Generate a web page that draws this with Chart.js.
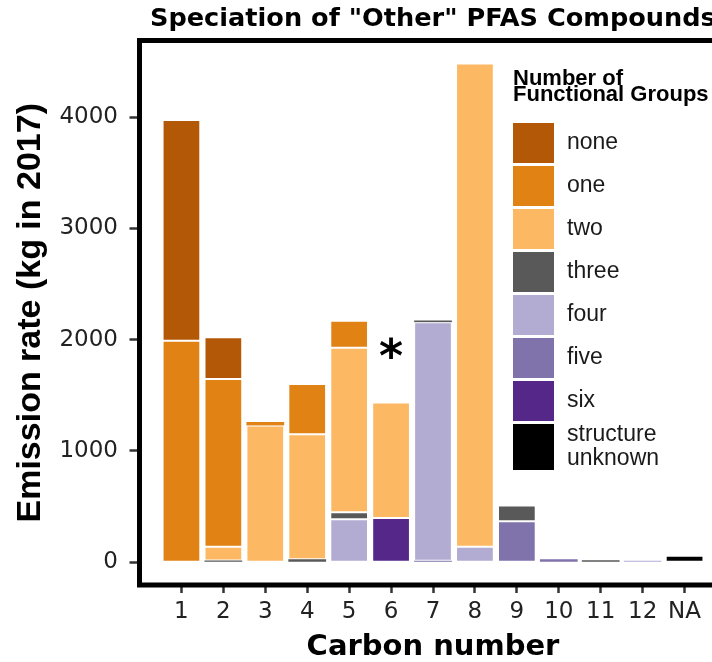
<!DOCTYPE html>
<html lang="en">
<head>
    <meta charset="UTF-8">
    <title>Speciation of "Other" PFAS Compounds</title>
    <script src="https://cdn.jsdelivr.net/npm/chart.js@4.4.1/dist/chart.umd.min.js"></script>
    <style>
        body {
            margin: 0;
            overflow: hidden;
            background: #fff;
        }
        #wrap {
            width: 740px;
            height: 662px;
        }
    </style>
</head>
<body>
    <div id="wrap">
        <canvas id="pfasChart" width="740" height="662"></canvas>
    </div>

    <script>
        // carbon number categories and tick values
        const categories = ['1', '2', '3', '4', '5', '6', '7', '8', '9', '10', '11', '12', 'NA'];
        const xPositions = [1, 2, 3, 4, 5, 6, 7, 8, 9, 10, 11, 12, 13];
        const yTicks = [0, 1000, 2000, 3000, 4000];

        // legend order (top of legend first)
        const groupLabels = ['none', 'one', 'two', 'three', 'four', 'five', 'six', 'structure unknown'];
        const groupColors = ['#B35806', '#E08214', '#FDB863', '#595959', '#B2ABD2', '#8073AC', '#542788', '#000000'];

        // emission rate (kg in 2017) per carbon number
        const none    = [1985, 375, 0, 0, 0, 0, 0, 0, 0, 0, 0, 0, 0];
        const one     = [1990, 1510, 32, 453, 243, 0, 0, 0, 0, 0, 0, 0, 0];
        const two     = [0, 123, 1229, 1123, 1480, 1037, 0, 4345, 0, 0, 0, 0, 0];
        const three   = [0, 15, 0, 27, 63, 0, 15, 0, 141, 0, 18, 0, 0];
        const four    = [0, 0, 0, 0, 385, 0, 2145, 138, 0, 0, 0, 12, 0];
        const five    = [0, 0, 0, 0, 0, 0, 12, 0, 368, 27, 0, 0, 0];
        const six     = [0, 0, 0, 0, 0, 398, 0, 0, 0, 0, 0, 0, 0];
        const unknown = [0, 0, 0, 0, 0, 0, 0, 0, 0, 0, 0, 0, 58];
        const groupValues = [none, one, two, three, four, five, six, unknown];

        // asterisk note above carbon number 6
        const starAt = { x: 6, y: 1925 };

        // ggplot stacks the first level on top, so build datasets bottom-up
        const datasets = [];
        for (let g = groupLabels.length - 1; g >= 0; g--) {
            datasets.push({
                label: groupLabels[g],
                data: xPositions.map((x, i) => ({ x: x, y: groupValues[g][i] || null })),
                backgroundColor: groupColors[g],
                borderColor: 'rgba(255,255,255,0.6)',
                // thin slivers would vanish under the outline
                borderWidth: c => (c.raw && c.raw.y < 45) ? 0 : 1,
                borderSkipped: false,
                barPercentage: 0.9,
                categoryPercentage: 1.0
            });
        }

        const decor = {
            id: 'decor',
            afterDraw(chart) {
                const ctx = chart.ctx;
                const a = chart.chartArea;
                const x = chart.scales.x, y = chart.scales.y;
                ctx.save();

                // panel border
                ctx.lineWidth = 5;
                ctx.strokeStyle = '#000';
                ctx.strokeRect(a.left, a.top, a.right - a.left, a.bottom - a.top);

                // title
                ctx.fillStyle = '#000';
                ctx.font = 'bold 25.6px "DejaVu Sans"';
                ctx.textAlign = 'left';
                ctx.textBaseline = 'alphabetic';
                ctx.fillText('Speciation of "Other" PFAS Compounds', 150, 26);

                // asterisk
                ctx.font = 'bold 46px "DejaVu Sans"';
                const m = ctx.measureText('*');
                const sx = x.getPixelForValue(starAt.x);
                const sy = y.getPixelForValue(starAt.y);
                ctx.textAlign = 'center';
                ctx.fillText('*', sx, sy + (m.actualBoundingBoxAscent - m.actualBoundingBoxDescent) / 2);

                // legend
                ctx.textAlign = 'left';
                ctx.font = 'bold 22px "Liberation Sans"';
                ctx.fillText('Number of', 513, 85);
                ctx.fillText('Functional Groups', 513, 101);

                ctx.font = '23px "Liberation Sans"';
                ctx.textBaseline = 'middle';
                let ky = 123;
                groupLabels.forEach((lab, i) => {
                    const kh = i === groupLabels.length - 1 ? 46 : 40;
                    ctx.fillStyle = groupColors[i];
                    ctx.fillRect(513, ky, 41, kh);
                    ctx.fillStyle = '#1a1a1a';
                    const lines = lab.split(' ');
                    const cy = ky + kh / 2;
                    if (lines.length === 1) {
                        ctx.fillText(lab, 567, cy);
                    } else {
                        ctx.fillText(lines[0], 567, cy - 12);
                        ctx.fillText(lines[1], 567, cy + 12);
                    }
                    ky += kh + 3;
                });
                ctx.restore();
            }
        };

        new Chart(document.getElementById('pfasChart'), {
            type: 'bar',
            data: { datasets: datasets },
            options: {
                responsive: false,
                animation: false,
                devicePixelRatio: 1,
                layout: { padding: { top: 40.5, right: 13.5, left: 0, bottom: 0 } },
                plugins: {
                    legend: { display: false },
                    title: { display: false },
                    tooltip: { enabled: false }
                },
                scales: {
                    x: {
                        type: 'linear',
                        stacked: true,
                        offset: false,
                        min: 0,
                        max: 14,
                        afterBuildTicks: s => { s.ticks = xPositions.map(v => ({ value: v })); },
                        afterFit: s => { s.height = 77; },
                        ticks: {
                            autoSkip: false,
                            maxRotation: 0,
                            padding: 5,
                            color: '#222',
                            font: { family: 'DejaVu Sans', size: 23 },
                            callback: v => categories[v - 1] ?? ''
                        },
                        grid: { offset: false, drawOnChartArea: false, tickLength: 8, tickWidth: 2.5, tickColor: '#333' },
                        border: { display: false },
                        title: {
                            display: true,
                            text: 'Carbon number',
                            color: '#000',
                            font: { family: 'DejaVu Sans', size: 29, weight: 'bold', lineHeight: 1 },
                            padding: { top: 0, bottom: 0 }
                        }
                    },
                    y: {
                        stacked: true,
                        min: -205,
                        max: 4690,
                        afterBuildTicks: s => { s.ticks = yTicks.map(v => ({ value: v })); },
                        afterFit: s => { s.width = 139.5; },
                        ticks: {
                            padding: 11.5,
                            color: '#222',
                            font: { family: 'DejaVu Sans', size: 23 },
                            callback: v => String(v)
                        },
                        grid: { drawOnChartArea: false, tickLength: 10, tickWidth: 2.5, tickColor: '#333' },
                        border: { display: false },
                        title: {
                            display: true,
                            text: 'Emission rate (kg in 2017)',
                            color: '#000',
                            font: { family: 'Liberation Sans', size: 34, weight: 'bold' },
                            padding: { top: 10, bottom: 0 }
                        }
                    }
                }
            },
            plugins: [decor]
        });
    </script>
</body>
</html>
